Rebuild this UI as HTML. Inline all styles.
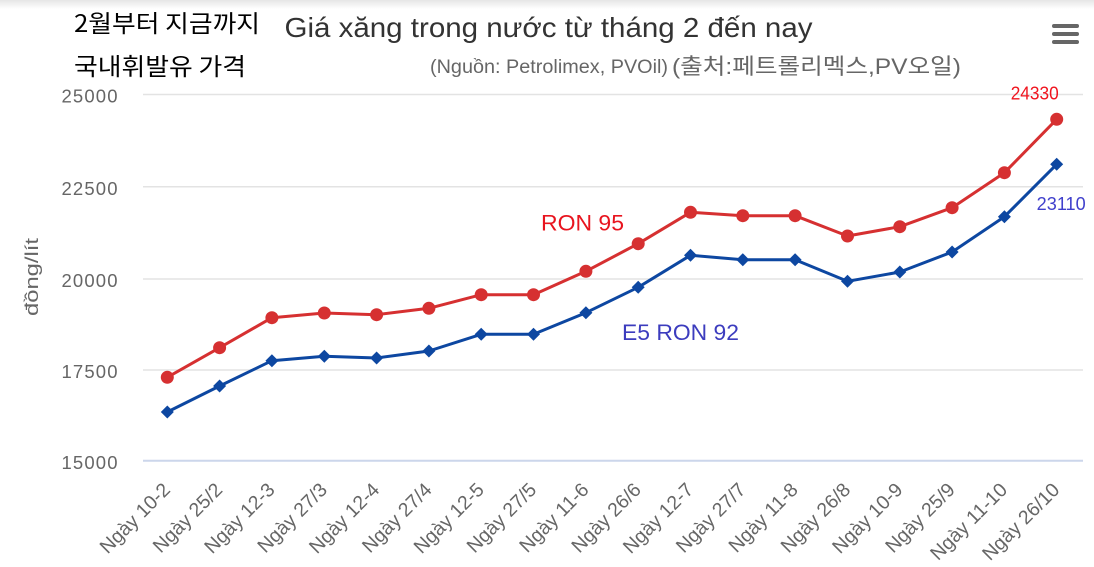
<!DOCTYPE html>
<html>
<head>
<meta charset="utf-8">
<style>
  html,body{margin:0;padding:0;background:#fff;}
  svg{display:block;}
  text{font-family:"Liberation Sans","Noto Sans CJK KR",sans-serif;}
</style>
</head>
<body>
<svg width="1094" height="567" viewBox="0 0 1094 567" xmlns="http://www.w3.org/2000/svg">
  <defs>
    <linearGradient id="topShade" x1="0" y1="0" x2="0" y2="1">
      <stop offset="0" stop-color="#e6e6e6"/>
      <stop offset="1" stop-color="#ffffff"/>
    </linearGradient>
  </defs>
  <rect x="0" y="0" width="1094" height="567" fill="#fff"/>
  <rect x="0" y="0" width="1094" height="9" fill="url(#topShade)"/>

  <!-- Korean heading -->
  <text x="74" y="32" font-size="24" fill="#000" textLength="186" lengthAdjust="spacingAndGlyphs" style="font-family:'Noto Sans CJK KR',sans-serif">2월부터 지금까지</text>
  <text x="74" y="75" font-size="24" fill="#000" textLength="172" lengthAdjust="spacingAndGlyphs" style="font-family:'Noto Sans CJK KR',sans-serif">국내휘발유 가격</text>

  <!-- Title -->
  <text x="284.5" y="37" font-size="28" fill="#333" textLength="528" lengthAdjust="spacingAndGlyphs">Giá xăng trong nước từ tháng 2 đến nay</text>
  <!-- Subtitle -->
  <text x="430" y="73" font-size="19" fill="#666" textLength="238" lengthAdjust="spacingAndGlyphs">(Nguồn: Petrolimex, PVOil)</text>
  <text x="672" y="74" font-size="22" fill="#666" textLength="289" lengthAdjust="spacingAndGlyphs" style="font-family:'Liberation Sans','Noto Sans CJK KR',sans-serif">(출처:페트롤리멕스,PV오일)</text>

  <!-- Hamburger -->
  <g stroke="#666" stroke-width="4" stroke-linecap="round">
    <line x1="1054" y1="26" x2="1077" y2="26"/>
    <line x1="1054" y1="34" x2="1077" y2="34"/>
    <line x1="1054" y1="42" x2="1077" y2="42"/>
  </g>

  <!-- Grid -->
  <g stroke="#e3e3e3" stroke-width="1.5">
    <line x1="143" y1="94.5" x2="1083" y2="94.5"/>
    <line x1="143" y1="186.7" x2="1083" y2="186.7"/>
    <line x1="143" y1="279" x2="1083" y2="279"/>
    <line x1="143" y1="370" x2="1083" y2="370"/>
  </g>
  <line x1="143" y1="460.7" x2="1083" y2="460.7" stroke="#ccd6eb" stroke-width="2"/>

  <!-- Y tick labels -->
  <g font-size="18.5" fill="#666" text-anchor="end">
    <text x="117.5" y="102.7" textLength="56" lengthAdjust="spacing">25000</text>
    <text x="117.5" y="194.9" textLength="56" lengthAdjust="spacing">22500</text>
    <text x="117.5" y="287.2" textLength="56" lengthAdjust="spacing">20000</text>
    <text x="117.5" y="378.2" textLength="56" lengthAdjust="spacing">17500</text>
    <text x="117.5" y="468.9" textLength="56" lengthAdjust="spacing">15000</text>
  </g>

  <!-- Y axis title -->
  <text transform="translate(38,277) rotate(-90)" text-anchor="middle" font-size="18" fill="#666" textLength="78" lengthAdjust="spacingAndGlyphs">đồng/lít</text>

  <!-- X labels -->
  <g font-size="19.5" fill="#666" text-anchor="end">
    <text transform="translate(171.3,491) rotate(-45)">Ngày 10-2</text>
    <text transform="translate(223.6,491) rotate(-45)">Ngày 25/2</text>
    <text transform="translate(275.9,491) rotate(-45)">Ngày 12-3</text>
    <text transform="translate(328.3,491) rotate(-45)">Ngày 27/3</text>
    <text transform="translate(380.6,491) rotate(-45)">Ngày 12-4</text>
    <text transform="translate(432.9,491) rotate(-45)">Ngày 27/4</text>
    <text transform="translate(485.2,491) rotate(-45)">Ngày 12-5</text>
    <text transform="translate(537.5,491) rotate(-45)">Ngày 27/5</text>
    <text transform="translate(589.9,491) rotate(-45)">Ngày 11-6</text>
    <text transform="translate(642.2,491) rotate(-45)">Ngày 26/6</text>
    <text transform="translate(694.5,491) rotate(-45)">Ngày 12-7</text>
    <text transform="translate(746.8,491) rotate(-45)">Ngày 27/7</text>
    <text transform="translate(799.1,491) rotate(-45)">Ngày 11-8</text>
    <text transform="translate(851.5,491) rotate(-45)">Ngày 26/8</text>
    <text transform="translate(903.8,491) rotate(-45)">Ngày 10-9</text>
    <text transform="translate(956.1,491) rotate(-45)">Ngày 25/9</text>
    <text transform="translate(1008.4,491) rotate(-45)">Ngày 11-10</text>
    <text transform="translate(1060.7,491) rotate(-45)">Ngày 26/10</text>
  </g>

  <!-- RON 95 series -->
  <polyline fill="none" stroke="#d63031" stroke-width="3" stroke-linejoin="round"
    points="167.3,377.3 219.6,347.7 271.9,317.7 324.3,313 376.6,314.7 428.9,308.3 481.2,294.7 533.5,294.7 585.9,271.3 638.2,243.7 690.5,212.3 742.8,215.7 795.1,215.7 847.5,236 899.8,226.7 952.1,207.7 1004.4,172.7 1056.7,119.3"/>
  <g fill="#d63031">
    <circle cx="167.3" cy="377.3" r="6.5"/>
    <circle cx="219.6" cy="347.7" r="6.5"/>
    <circle cx="271.9" cy="317.7" r="6.5"/>
    <circle cx="324.3" cy="313" r="6.5"/>
    <circle cx="376.6" cy="314.7" r="6.5"/>
    <circle cx="428.9" cy="308.3" r="6.5"/>
    <circle cx="481.2" cy="294.7" r="6.5"/>
    <circle cx="533.5" cy="294.7" r="6.5"/>
    <circle cx="585.9" cy="271.3" r="6.5"/>
    <circle cx="638.2" cy="243.7" r="6.5"/>
    <circle cx="690.5" cy="212.3" r="6.5"/>
    <circle cx="742.8" cy="215.7" r="6.5"/>
    <circle cx="795.1" cy="215.7" r="6.5"/>
    <circle cx="847.5" cy="236" r="6.5"/>
    <circle cx="899.8" cy="226.7" r="6.5"/>
    <circle cx="952.1" cy="207.7" r="6.5"/>
    <circle cx="1004.4" cy="172.7" r="6.5"/>
    <circle cx="1056.7" cy="119.3" r="6.5"/>
  </g>

  <!-- E5 RON 92 series -->
  <polyline fill="none" stroke="#0d47a1" stroke-width="3" stroke-linejoin="round"
    points="167.3,412 219.6,386 271.9,360.7 324.3,356.3 376.6,358 428.9,351 481.2,334.3 533.5,334.3 585.9,312.7 638.2,287.3 690.5,255.3 742.8,259.7 795.1,259.7 847.5,281.3 899.8,272 952.1,252 1004.4,216.7 1056.7,164.3"/>
  <g fill="#0d47a1">
    <path d="M167.3,405.5 l6.5,6.5 l-6.5,6.5 l-6.5,-6.5z"/>
    <path d="M219.6,379.5 l6.5,6.5 l-6.5,6.5 l-6.5,-6.5z"/>
    <path d="M271.9,354.2 l6.5,6.5 l-6.5,6.5 l-6.5,-6.5z"/>
    <path d="M324.3,349.8 l6.5,6.5 l-6.5,6.5 l-6.5,-6.5z"/>
    <path d="M376.6,351.5 l6.5,6.5 l-6.5,6.5 l-6.5,-6.5z"/>
    <path d="M428.9,344.5 l6.5,6.5 l-6.5,6.5 l-6.5,-6.5z"/>
    <path d="M481.2,327.8 l6.5,6.5 l-6.5,6.5 l-6.5,-6.5z"/>
    <path d="M533.5,327.8 l6.5,6.5 l-6.5,6.5 l-6.5,-6.5z"/>
    <path d="M585.9,306.2 l6.5,6.5 l-6.5,6.5 l-6.5,-6.5z"/>
    <path d="M638.2,280.8 l6.5,6.5 l-6.5,6.5 l-6.5,-6.5z"/>
    <path d="M690.5,248.8 l6.5,6.5 l-6.5,6.5 l-6.5,-6.5z"/>
    <path d="M742.8,253.2 l6.5,6.5 l-6.5,6.5 l-6.5,-6.5z"/>
    <path d="M795.1,253.2 l6.5,6.5 l-6.5,6.5 l-6.5,-6.5z"/>
    <path d="M847.5,274.8 l6.5,6.5 l-6.5,6.5 l-6.5,-6.5z"/>
    <path d="M899.8,265.5 l6.5,6.5 l-6.5,6.5 l-6.5,-6.5z"/>
    <path d="M952.1,245.5 l6.5,6.5 l-6.5,6.5 l-6.5,-6.5z"/>
    <path d="M1004.4,210.2 l6.5,6.5 l-6.5,6.5 l-6.5,-6.5z"/>
    <path d="M1056.7,157.8 l6.5,6.5 l-6.5,6.5 l-6.5,-6.5z"/>
  </g>

  <!-- Annotations -->
  <text x="541" y="230.5" font-size="22" fill="#e8141e" textLength="83" lengthAdjust="spacingAndGlyphs">RON 95</text>
  <text x="622" y="340" font-size="22" fill="#3c3cbe" textLength="117" lengthAdjust="spacingAndGlyphs">E5 RON 92</text>
  <text x="1010.7" y="99.3" font-size="18" fill="#f0141e" textLength="48" lengthAdjust="spacingAndGlyphs">24330</text>
  <text x="1036.7" y="210" font-size="18" fill="#4040cc" textLength="49" lengthAdjust="spacingAndGlyphs">23110</text>
</svg>
</body>
</html>
